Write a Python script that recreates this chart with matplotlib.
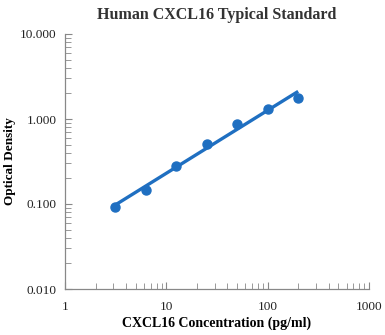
import matplotlib
matplotlib.use("Agg")
import matplotlib.pyplot as plt
import numpy as np
from matplotlib.ticker import FixedLocator, FuncFormatter, LogLocator, NullFormatter

plt.rcParams['font.family'] = ['Liberation Serif', 'DejaVu Serif']

# standard curve points
conc = [3.125, 6.25, 12.5, 25, 50, 100, 200]
od = [0.092, 0.148, 0.278, 0.51, 0.88, 1.32, 1.75]

x_ticks = [1, 10, 100, 1000]
y_ticks = [0.01, 0.1, 1, 10]

blue = '#1f6fc1'

# power fit on log-log
slope, icpt = np.polyfit(np.log10(conc), np.log10(od), 1)
xfit = np.array([conc[0], conc[-1]])
yfit = 10 ** (icpt + slope * np.log10(xfit))

fig = plt.figure(figsize=(3.85, 3.35), dpi=100)
ax = fig.add_axes([65/385, 1 - 289/335, (369-65)/385, (289-34)/335])

ax.plot(xfit, yfit, color=blue, linewidth=2.4, solid_capstyle='butt')
ax.plot(conc, od, 'o', color=blue, markersize=6.5)

ax.set_xscale('log')
ax.set_yscale('log')
ax.set_xlim(1, 1000)
ax.set_ylim(0.01, 10)
ax.xaxis.set_major_locator(FixedLocator(x_ticks))
ax.yaxis.set_major_locator(FixedLocator(y_ticks))
ax.xaxis.set_minor_locator(LogLocator(base=10, subs=np.arange(2, 10)))
ax.yaxis.set_minor_locator(LogLocator(base=10, subs=np.arange(2, 10)))
ax.xaxis.set_minor_formatter(NullFormatter())
ax.yaxis.set_minor_formatter(NullFormatter())
ax.xaxis.set_major_formatter(FuncFormatter(lambda v, p: '%d' % v))
ax.yaxis.set_major_formatter(FuncFormatter(lambda v, p: '%.3f' % v))

for s in ['top', 'right']:
    ax.spines[s].set_visible(False)
for s in ['left', 'bottom']:
    ax.spines[s].set_color('#888888')
    ax.spines[s].set_linewidth(0.9)

ax.tick_params(which='both', direction='in', color='#888888', labelsize=9.5, labelcolor='#222222')
ax.tick_params(which='major', length=5, pad=6)
ax.tick_params(which='minor', length=4)
ax.tick_params(axis='x', which='major', pad=9)

ax.set_title('Human CXCL16 Typical Standard', fontsize=11.5, fontweight='bold', color='#333333', pad=11)
ax.set_xlabel('CXCL16 Concentration (pg/ml)', fontsize=10, fontweight='bold', labelpad=2)
ax.set_ylabel('Optical Density', fontsize=9.5, fontweight='bold')
ax.yaxis.set_label_coords(-0.16, 0.5)

fig.savefig('out.png', dpi=100)
